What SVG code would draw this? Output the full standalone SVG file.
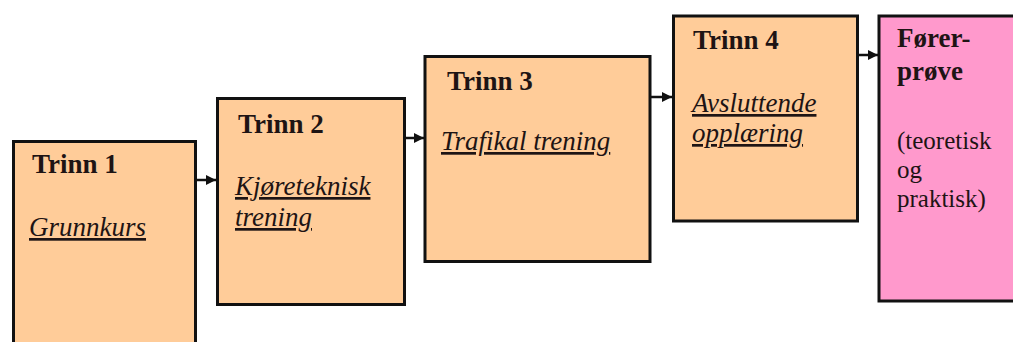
<svg xmlns="http://www.w3.org/2000/svg" width="1013" height="342" viewBox="0 0 1013 342">
<defs>
<style>
.box{fill:#FFCC99;stroke:#111;stroke-width:3}
.pink{fill:#FF99CC;stroke:#111;stroke-width:3}
text{font-family:"Liberation Serif","Times New Roman",serif;font-size:27px;fill:#1e1414}
.t{font-weight:bold}
.i{font-style:italic;text-decoration:underline}
.r{font-size:25px}
.c{stroke:#111;stroke-width:2.5;fill:none}
</style>
<marker id="ah" viewBox="0 0 10 10" refX="10" refY="5" markerWidth="4" markerHeight="4" orient="auto" markerUnits="strokeWidth">
<path d="M0,0 L10,5 L0,10 z" fill="#111"/>
</marker>
</defs>
<rect width="1013" height="342" fill="#fff"/>
<g id="connectors">
<line class="c" x1="197" y1="180" x2="216" y2="180" marker-end="url(#ah)"/>
<line class="c" x1="405" y1="138" x2="424" y2="138" marker-end="url(#ah)"/>
<line class="c" x1="651" y1="97" x2="672" y2="97" marker-end="url(#ah)"/>
<line class="c" x1="859" y1="55" x2="878" y2="55" marker-end="url(#ah)"/>
</g>
<g id="trinn1">
<rect class="box" x="13.5" y="141.5" width="182" height="215"/>
<text class="t" x="32" y="173">Trinn 1</text>
<text class="i" x="29" y="236">Grunnkurs</text>
</g>
<g id="trinn2">
<rect class="box" x="217.5" y="98.5" width="187" height="206"/>
<text class="t" x="238" y="133">Trinn 2</text>
<text class="i" x="235" y="195">Kjøreteknisk</text>
<text class="i" x="235" y="226">trening</text>
</g>
<g id="trinn3">
<rect class="box" x="425" y="56.5" width="225" height="205"/>
<text class="t" x="447" y="90">Trinn 3</text>
<text class="i" x="441" y="150">Trafikal trening</text>
</g>
<g id="trinn4">
<rect class="box" x="673.5" y="16" width="184" height="205"/>
<text class="t" x="693" y="49">Trinn 4</text>
<text class="i" x="692" y="112">Avsluttende</text>
<text class="i" x="692" y="142">opplæring</text>
</g>
<g id="forerprove">
<rect class="pink" x="879" y="16" width="150" height="285"/>
<text class="t" x="897" y="47">Fører-</text>
<text class="t" x="897" y="80">prøve</text>
<text class="r" x="897" y="149">(teoretisk</text>
<text class="r" x="897" y="178">og</text>
<text class="r" x="897" y="207">praktisk)</text>
</g>
</svg>
